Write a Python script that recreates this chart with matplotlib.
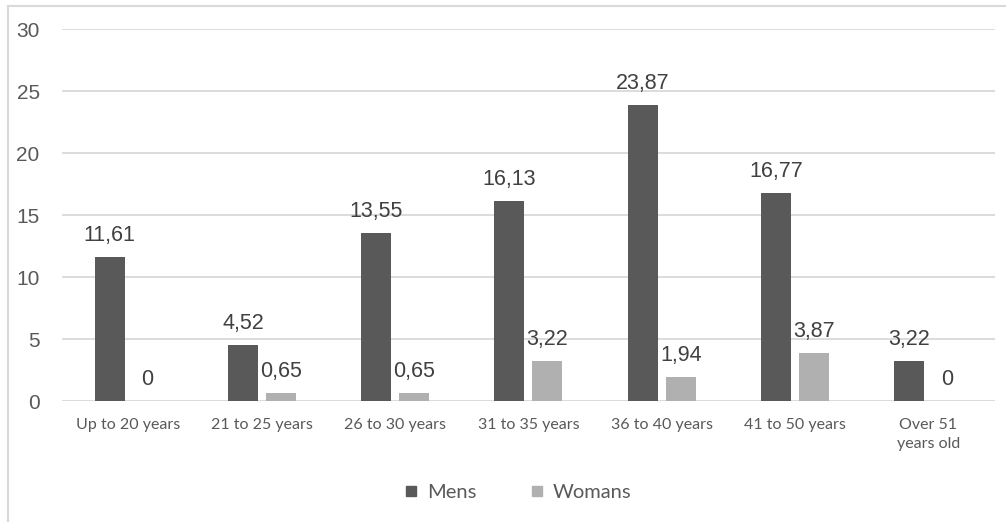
import numpy as np
import matplotlib.pyplot as plt
from matplotlib.lines import Line2D

categories = ["Up to 20 years", "21 to 25 years", "26 to 30 years", "31 to 35 years",
              "36 to 40 years", "41 to 50 years", "Over 51\nyears old"]
mens = [11.61, 4.52, 13.55, 16.13, 23.87, 16.77, 3.22]
womans = [0, 0.65, 0.65, 3.22, 1.94, 3.87, 0]

dark = "#595959"
light = "#b0b0b0"
grid = "#d9d9d9"

fig = plt.figure(figsize=(10.06, 5.22), dpi=100)
ax = fig.add_axes([0.0616, 0.2318, 0.9274, 0.7126])

x = np.arange(len(categories))
w = 0.225
gap = 0.03
b1 = ax.bar(x - w / 2 - gap, mens, w, color=dark, label="Mens", zorder=3)
b2 = ax.bar(x + w / 2 + gap, womans, w, color=light, label="Womans", zorder=3)

def fmt(v):
    return f"{v:.2f}".replace(".", ",") if v else "0"

for bars, vals in ((b1, mens), (b2, womans)):
    for r, v in zip(bars, vals):
        ax.annotate(fmt(v), (r.get_x() + r.get_width() / 2, v),
                    xytext=(0, 8), textcoords="offset points",
                    ha="center", va="bottom", fontsize=15.5,
                    family="Liberation Sans", color="#404040", zorder=4)

ax.set_xlim(-0.5, len(categories) - 0.5)
ax.set_ylim(0, 30)
ax.set_yticks(range(0, 31, 5))
ax.yaxis.grid(True, color=grid, linewidth=1.3, zorder=0)
for s in ax.spines.values():
    s.set_visible(False)
ax.tick_params(length=0)
ax.tick_params(axis="y", pad=16, labelsize=15, labelcolor=dark)
ax.tick_params(axis="x", pad=12, labelsize=11.5, labelcolor=dark)
for t in ax.get_yticklabels():
    t.set_family("Liberation Sans")
ax.set_xticks(x)
ax.set_xticklabels(categories, family="Lato", linespacing=1.45, va="top")

leg = fig.legend(handles=[
    Line2D([], [], marker="s", ls="", color=dark, markersize=7.5, label="Mens"),
    Line2D([], [], marker="s", ls="", color=light, markersize=7.5, label="Womans")],
    loc="center", bbox_to_anchor=(0.514, 0.056), ncol=2, frameon=False,
    prop={"family": "Lato", "size": 14.5}, handlelength=0.8, handletextpad=0.4,
    columnspacing=2.6)
for t in leg.get_texts():
    t.set_color(dark)

# light frame along the top and left edges
fig.add_artist(Line2D([8 / 1006, 1], [1 - 6 / 522, 1 - 6 / 522], color=grid, lw=1.5))
fig.add_artist(Line2D([8 / 1006, 8 / 1006], [0, 1 - 6 / 522], color=grid, lw=1.5))

fig.savefig("out.png", dpi=100)
